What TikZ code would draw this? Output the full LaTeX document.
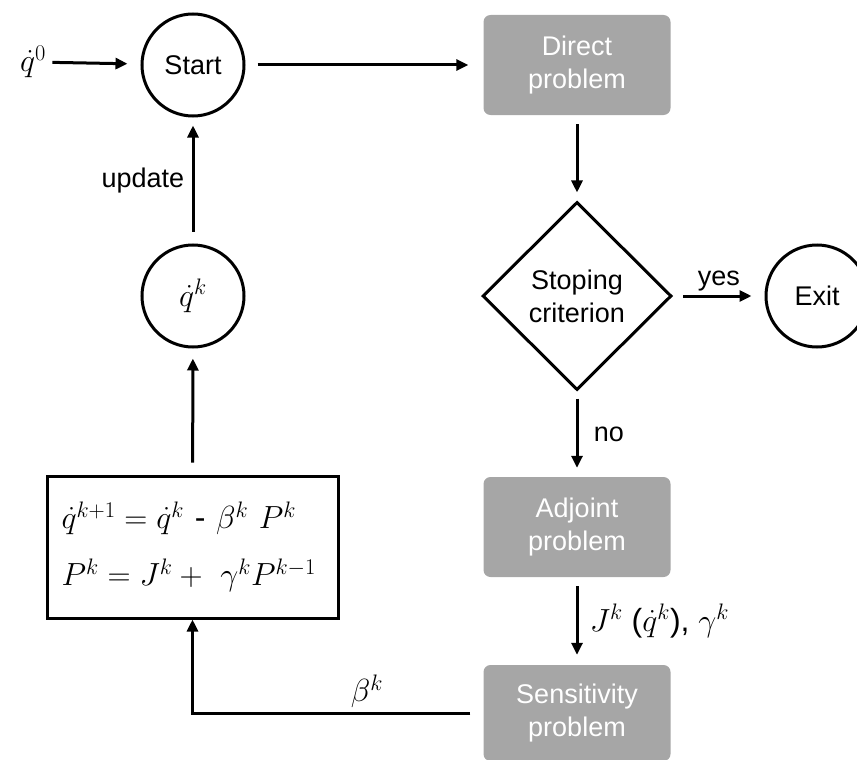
\documentclass[tikz,border=0pt]{standalone}
\usepackage{fix-cm}
\usepackage[no-math]{fontspec}
\setmainfont{Liberation Sans}
\usetikzlibrary{shapes.geometric,arrows.meta}
\definecolor{boxgray}{HTML}{A6A6A6}
\newcommand{\mathbig}{\fontsize{32}{38}\selectfont}
\tikzset{
  flow/.style={-{Triangle[length=12pt,width=11pt]},line width=3pt,shorten <=11pt,shorten >=11pt},
  ball/.style={circle,draw,line width=3pt,minimum size=102pt,inner sep=0pt},
  task/.style={rectangle,rounded corners=7pt,fill=boxgray,text=white,minimum width=187pt,minimum height=100pt,align=center},
  eqn/.style={font=\mathbig},
}
\begin{document}
\begin{tikzpicture}[x=1pt,y=-1pt,font=\fontsize{27}{33}\selectfont]
\useasboundingbox (0,0) rectangle (857,760);
% nodes
\node[eqn] (q0) at (33,62) {$\dot{q}^{0}$};
\node[ball] (start) at (193,65) {Start};
\node[task] (direct) at (577,65) {Direct\\problem};
\node[diamond,draw,line width=3pt,minimum width=189pt,minimum height=188pt,inner sep=0pt,align=center] (crit) at (577,296) {Stoping\\criterion};
\node[ball] (exit) at (817,296) {Exit};
\node[task] (adj) at (577,527) {Adjoint\\problem};
\node[task,minimum height=96pt] (sens) at (577,713) {Sensitivity\\problem};
\node[draw,line width=3pt,minimum width=291pt,minimum height=142pt,text width=262pt,align=left,font=\fontsize{32}{57}\selectfont] (upd) at (192.5,547)
  {$\dot{q}^{k+1} = \dot{q}^{k}$ - $\beta^{k}\ P^{k}$\\$P^{k} = J^{k} +\ \gamma^{k}P^{k-1}$};
\node[ball,eqn] (qk) at (193,296) {$\dot{q}^{k}$};
% connectors
\draw[flow,shorten <=3pt,shorten >=13pt] (q0) -- (start);
\draw[flow,shorten <=12pt,shorten >=15pt] (start) -- (direct);
\draw[flow,shorten <=9pt,shorten >=8pt] (direct) -- (crit);
\draw[flow,shorten <=10pt,shorten >=13pt] (crit) -- node[above]{yes} (exit);
\draw[flow,shorten <=7pt,shorten >=9pt] (crit) -- node[right,xshift=12pt]{no} (adj);
\draw[flow,shorten <=9pt,shorten >=10pt] (adj) -- node[right,xshift=8pt,eqn]{$J^{k}$ ($\dot{q}^{k}$), $\gamma^{k}$} (sens);
\draw[flow,shorten <=13pt,shorten >=0pt] (sens.west) -| node[pos=0.2,above,eqn]{$\beta^{k}$} (upd.south);
\draw[flow,shorten <=12pt,shorten >=10pt] (upd) -- (qk);
\draw[flow,shorten <=12pt,shorten >=8pt] (qk) -- node[left,xshift=-4pt]{update} (start);
\end{tikzpicture}
\end{document}
